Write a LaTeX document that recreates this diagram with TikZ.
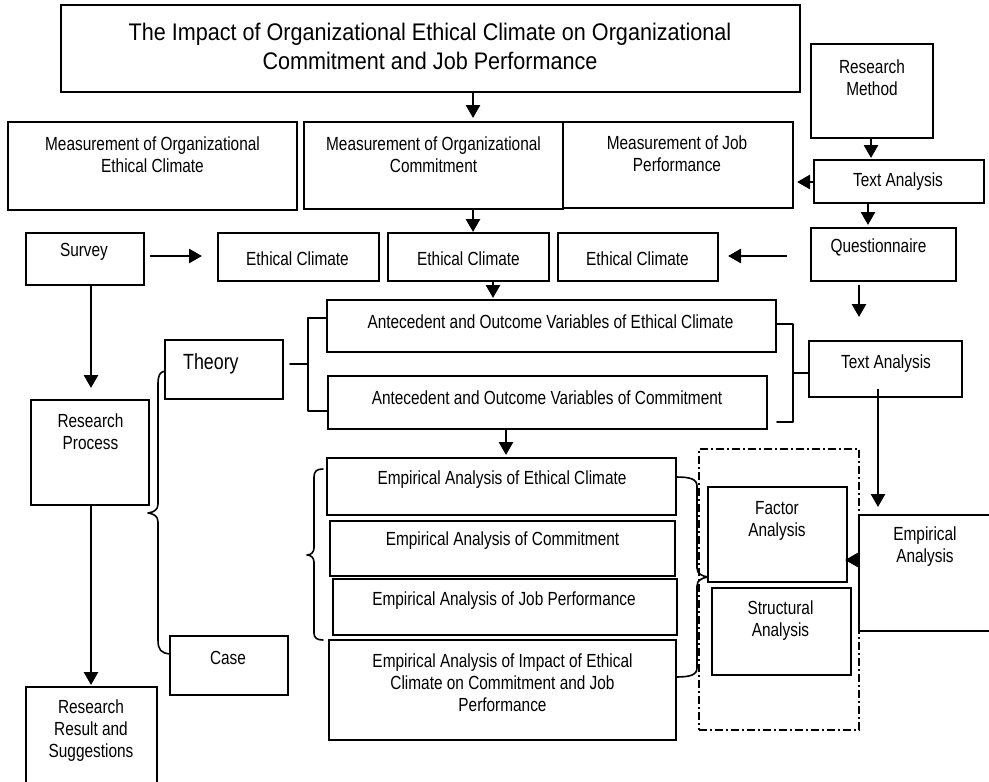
\documentclass[tikz,border=0pt]{standalone}
\usepackage{fontspec}
\setmainfont{Liberation Sans}[FakeStretch=0.81]
\newfontfamily\titlefont{Liberation Sans}[FakeStretch=0.9]
\usetikzlibrary{arrows.meta,calc}
\tikzset{
  box/.style={draw, line width=1.6pt, inner sep=0pt, outer sep=0pt, rectangle},
  dbox/.style={draw, line width=1.8pt, inner sep=0pt, outer sep=0pt, rectangle, dash pattern=on 8pt off 3pt on 2pt off 3pt},
  txt/.style={inner sep=0pt, align=center, font=\fontsize{19}{22}\selectfont},
  ttl/.style={inner sep=0pt, align=center, font=\titlefont\fontsize{24}{29}\selectfont},
  thr/.style={inner sep=0pt, align=left, font=\fontsize{22}{25}\selectfont},
  arr/.style={line width=2.7pt, -{Triangle[length=13pt,width=14pt]}},
  brk/.style={line width=1.6pt, line cap=round, line join=round},
}
\newcommand\rbox[6][box]{\node[#1, minimum width={#5-#3}, minimum height={#6-#4}, anchor=north west] (#2) at (#3,#4) {};}
\begin{document}
\begin{tikzpicture}[x=1pt,y=-1pt]
\useasboundingbox (0,0) rectangle (989,782);
\clip (0,0) rectangle (989,782);
% boxes
\rbox{title}{61}{5}{800}{92}
\node[ttl] (title-t) at (430,46) {The Impact of Organizational Ethical Climate on Organizational\\Commitment and Job Performance};
\rbox{me}{8}{122}{297}{210}
\node[txt] (me-t) at (152.5,155) {Measurement of Organizational\\Ethical Climate};
\rbox{mc}{304}{122}{563}{209}
\node[txt] (mc-t) at (433.5,155) {Measurement of Organizational\\Commitment};
\rbox{mj}{563}{122}{793}{208}
\node[txt] (mj-t) at (677,153.5) {Measurement of Job\\Performance};
\rbox{rm}{811}{44}{933}{138}
\node[txt] (rm-t) at (872,78) {Research\\Method};
\rbox{ta1}{814}{160}{984}{203}
\node[txt] (ta1-t) at (898,182) {Text Analysis};
\rbox{q}{811}{228}{956}{281}
\node[txt] (q-t) at (878.5,247) {Questionnaire};
\rbox{sv}{26}{233}{144}{285}
\node[txt] (sv-t) at (84,252) {Survey};
\rbox{ec1}{218}{233}{379}{281}
\node[txt] (ec1-t) at (297.5,259) {Ethical Climate};
\rbox{ec2}{388}{233}{549}{281}
\node[txt] (ec2-t) at (468.5,259) {Ethical Climate};
\rbox{ec3}{558}{233}{718}{281}
\node[txt] (ec3-t) at (637.5,259) {Ethical Climate};
\rbox{a1}{327}{300}{776}{352}
\node[txt] (a1-t) at (550.5,322) {Antecedent and Outcome Variables of Ethical Climate};
\rbox{a2}{328}{376}{767}{429}
\node[txt] (a2-t) at (547,398) {Antecedent and Outcome Variables of Commitment};
\rbox{th}{165}{340}{283}{399}
\node[thr, anchor=west] (th-t) at (183,364) {Theory};
\rbox{ta2}{809}{341}{962}{397}
\node[txt] (ta2-t) at (886,363.5) {Text Analysis};
\rbox{rp}{31}{400}{149}{505}
\node[txt] (rp-t) at (90.5,432) {Research\\Process};
\rbox{e1}{327}{458}{676}{515}
\node[txt] (e1-t) at (502,480) {Empirical Analysis of Ethical Climate};
\rbox{e2}{330}{521}{675}{576}
\node[txt] (e2-t) at (502.5,541) {Empirical Analysis of Commitment};
\rbox{e3}{333}{579}{677}{635}
\node[txt] (e3-t) at (504,600.5) {Empirical Analysis of Job Performance};
\rbox{e4}{329}{640}{676}{740}
\node[txt] (e4-t) at (502.5,683) {Empirical Analysis of Impact of Ethical\\Climate on Commitment and Job\\Performance};
\rbox{cs}{170}{636}{288}{695}
\node[txt] (cs-t) at (228,657.5) {Case};
\rbox{rr}{26}{687}{157}{800}
\node[txt] (rr-t) at (91,731) {Research\\Result and\\Suggestions};
\rbox[dbox]{grp}{699}{449}{859}{730}
\rbox{fa}{708}{487}{847}{582}
\node[txt] (fa-t) at (777,520.5) {Factor\\Analysis};
\rbox{sa}{712}{588}{851}{675}
\node[txt] (sa-t) at (780.5,620.5) {Structural\\Analysis};
\rbox{ea}{859}{515}{1000}{631}
\node[txt] (ea-t) at (925,547) {Empirical\\Analysis};
% guide coordinates
\coordinate (X1) at (473,0);
\coordinate (X2) at (493,0);
\coordinate (X3) at (506,0);
\coordinate (X4) at (91,0);
\coordinate (X5) at (871,0);
\coordinate (X6) at (868,0);
\coordinate (X7) at (859,0);
\coordinate (X8) at (878,0);
\coordinate (Y1) at (0,256);
\coordinate (Y2) at (0,182);
\coordinate (Y3) at (0,560);
% arrows
\draw[arr] (title.south -| X1) -- ([yshift=4pt]mc.north -| X1);
\draw[arr] (mc.south -| X1) -- ([yshift=1pt]ec2.north -| X1);
\draw[arr] (ec2.south -| X2) -- ([yshift=2pt]a1.north -| X2);
\draw[arr] (a2.south -| X3) -- ([yshift=3pt]e1.north -| X3);
\draw[arr] (sv.south -| X4) -- ([yshift=12pt]rp.north -| X4);
\draw[arr] (rp.south -| X4) -- ([yshift=2pt]rr.north -| X4);
\draw[arr] ([xshift=6pt]sv.east |- Y1) -- ([xshift=-16pt]ec1.west |- Y1);
\draw[arr] ([xshift=-24pt]q.west |- Y1) -- ([xshift=10pt]ec3.east |- Y1);
\draw[arr] (rm.south -| X5) -- ([yshift=2pt]ta1.north -| X5);
\draw[arr] (ta1.south -| X6) -- ([yshift=3pt]q.north -| X6);
\draw[arr] (ta1.west |- Y2) -- ([xshift=4pt]mj.east |- Y2);
\draw[arr] ([yshift=-4pt]q.south -| X7) -- ([yshift=24pt]ta2.north -| X7);
\draw[arr] ([yshift=8pt]ta2.south -| X8) -- ([yshift=8pt]ea.north -| X8);
\draw[arr] (ea.west |- Y3) -- ([xshift=-2pt]fa.east |- Y3);
% brackets
\coordinate (tb) at (308,364);
\draw[brk] ([xshift=7pt]th.east |- tb) -- (tb);
\draw[brk] (a1.west |- 0,318) -- (308,318) -- (308,411) -- (a2.west |- 0,411);
\coordinate (ab) at (793,373);
\draw[brk] (a1.east |- 0,324) -- (793,324) -- (793,422) -- (777,422);
\draw[brk] (ab) -- (ta2.west |- ab);
% big left brace
\draw[brk] (th.west |- 0,371) .. controls (160,372) and (158,375) .. (158,384) -- (158,504)
  .. controls (158,510) and (154,512) .. (148,513) .. controls (154,514) and (158,516) .. (158,522)
  -- (158,640) .. controls (158,650) and (161,653) .. (cs.west |- 0,654);
% empirical left brace
\draw[brk] (323,469) .. controls (317,469) and (314,471) .. (314,477) -- (314,548)
  .. controls (314,552) and (311,555) .. (307,555) .. controls (311,555) and (314,558) .. (314,562)
  -- (314,633) .. controls (314,638) and (317,640) .. (323,640);
% right brace
\draw[brk] (e1.east |- 0,477) .. controls (690,477) and (697,479) .. (697,486) -- (697,568)
  .. controls (697,574) and (702,576) .. (fa.west |- 0,577) .. controls (702,578) and (697,580) .. (697,586)
  -- (697,668) .. controls (697,675) and (690,677) .. (e4.east |- 0,677);
\end{tikzpicture}
\end{document}
